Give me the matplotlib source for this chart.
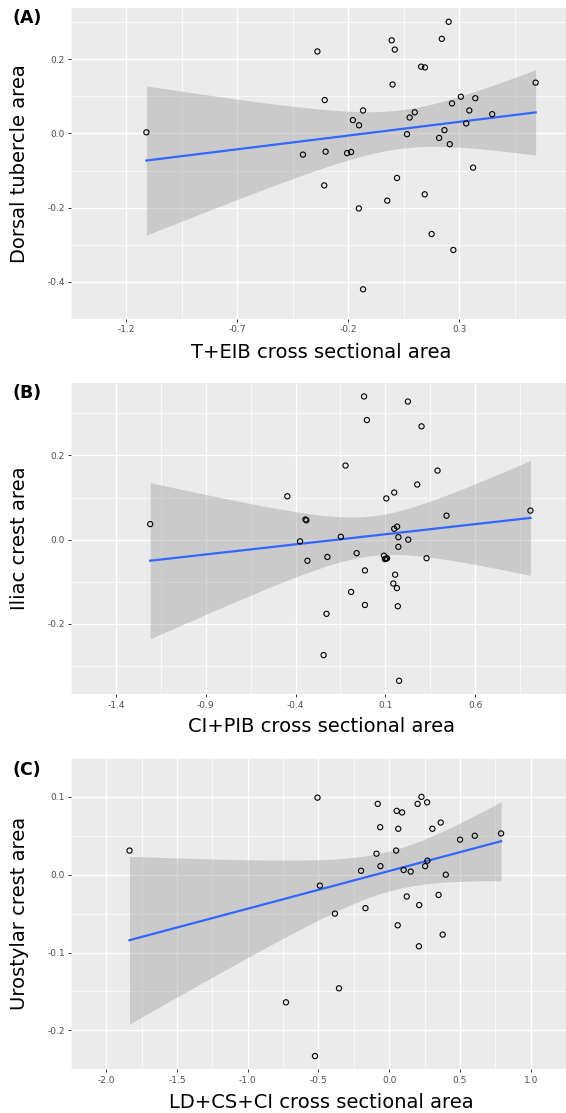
import numpy as np
import matplotlib
matplotlib.use("Agg")
import matplotlib.pyplot as plt

# ---- data (three panels)
a_x = [-1.110, -0.404, -0.339, -0.004, 0.010, 0.253, 0.222, 0.129, 0.146, 0.000,
       0.645, -0.306, 0.308, 0.373, 0.268, -0.133, 0.346, 0.100, 0.077, 0.449,
       -0.179, -0.151, 0.332, 0.234, 0.065, 0.210, 0.258, -0.302, -0.205, -0.187,
       0.363, -0.308, 0.020, 0.145, -0.024, -0.152, 0.176, 0.274, -0.133]
a_y = [0.003, -0.057, 0.221, 0.251, 0.226, 0.301, 0.255, 0.180, 0.178, 0.132,
       0.137, 0.090, 0.099, 0.095, 0.081, 0.062, 0.062, 0.057, 0.043, 0.052,
       0.036, 0.022, 0.027, 0.009, -0.002, -0.012, -0.029, -0.049, -0.053, -0.050,
       -0.092, -0.140, -0.120, -0.164, -0.181, -0.202, -0.271, -0.314, -0.420]

b_x = [-1.209, -0.446, -0.345, -0.340, -0.375, -0.334, -0.019, 0.225, -0.003, 0.301,
       -0.122, 0.390, 0.277, 0.149, 0.105, 0.907, 0.440, 0.165, 0.149, -0.148,
       0.172, 0.227, 0.172, -0.060, 0.092, 0.097, 0.103, 0.109, -0.223, 0.329,
       -0.014, 0.154, 0.144, 0.164, -0.091, -0.014, 0.169, -0.228, -0.244, 0.176]
b_y = [0.037, 0.103, 0.048, 0.046, -0.004, -0.050, 0.340, 0.328, 0.284, 0.269,
       0.176, 0.164, 0.131, 0.112, 0.098, 0.069, 0.057, 0.031, 0.026, 0.007,
       0.006, 0.000, -0.017, -0.032, -0.038, -0.046, -0.045, -0.044, -0.041, -0.044,
       -0.073, -0.083, -0.104, -0.115, -0.124, -0.155, -0.158, -0.176, -0.274, -0.335]

c_x = [-1.836, -0.730, -0.507, 0.228, -0.081, 0.201, 0.268, 0.053, 0.091, 0.364,
       -0.064, 0.064, 0.305, 0.791, 0.605, 0.501, 0.049, -0.090, 0.270, 0.254,
       -0.062, -0.199, 0.102, 0.152, 0.400, -0.490, 0.124, 0.349, 0.212, -0.168,
       -0.384, 0.060, 0.378, 0.210, -0.355, -0.525]
c_y = [0.031, -0.164, 0.099, 0.100, 0.091, 0.091, 0.093, 0.082, 0.080, 0.067,
       0.061, 0.059, 0.059, 0.053, 0.050, 0.045, 0.031, 0.027, 0.018, 0.011,
       0.011, 0.005, 0.006, 0.004, 0.000, -0.014, -0.028, -0.026, -0.039, -0.043,
       -0.050, -0.065, -0.077, -0.092, -0.146, -0.233]

panels = [
    ("(A)", a_x, a_y, "T+EIB cross sectional area", "Dorsal tubercle area",
     (-1.298, 0.782), (-0.454, 0.339), [-1.2, -0.7, -0.2, 0.3], [-0.4, -0.2, 0.0, 0.2]),
    ("(B)", b_x, b_y, "CI+PIB cross sectional area", "Iliac crest area",
     (-1.524, 1.105), (-0.367, 0.372), [-1.4, -0.9, -0.4, 0.1, 0.6], [-0.2, 0.0, 0.2]),
    ("(C)", c_x, c_y, "LD+CS+CI cross sectional area", "Urostylar crest area",
     (-2.154, 1.124), (-0.250, 0.146), [-2.0, -1.5, -1.0, -0.5, 0.0, 0.5, 1.0],
     [-0.2, -0.1, 0.0, 0.1]),
]

PANEL_BG, TICKTXT = "#EBEBEB", "#4D4D4D"


def t95(df):
    # Cornish-Fisher approximation of the 97.5% t quantile
    z = 1.959964
    return z + (z**3 + z) / (4 * df) + (5 * z**5 + 16 * z**3 + 3 * z) / (96 * df**2)


def lm_band(x, y, n=80):
    x, y = np.asarray(x), np.asarray(y)
    b, a = np.polyfit(x, y, 1)
    res = y - (a + b * x)
    k = len(x)
    s = np.sqrt(np.sum(res**2) / (k - 2))
    xs = np.linspace(x.min(), x.max(), n)
    fit = a + b * xs
    se = s * np.sqrt(1 / k + (xs - x.mean())**2 / np.sum((x - x.mean())**2))
    t = t95(k - 2)
    return xs, fit, fit - t * se, fit + t * se


fig = plt.figure(figsize=(5.66, 11.13), dpi=100)
bottoms = [0.7134, 0.3762, 0.0393]
xlab_y = [352, 727, 1102]
tag_y = [18, 393, 770]

for (tag, x, y, xl, yl, xlim, ylim, xt, yt), bot, xly, tgy in zip(
        panels, bottoms, xlab_y, tag_y):
    ax = fig.add_axes([0.1254, bot, 0.8746, 0.2797])
    ax.set_facecolor(PANEL_BG)
    for sp in ax.spines.values():
        sp.set_visible(False)
    ax.set_xlim(*xlim)
    ax.set_ylim(*ylim)
    ax.set_xticks(xt, [f"{v:.1f}" for v in xt])
    ax.set_yticks(yt, [f"{v:.1f}" for v in yt])
    ax.set_xticks([v + (xt[1] - xt[0]) / 2 for v in [xt[0] - (xt[1] - xt[0])] + xt],
                  minor=True)
    ax.set_yticks([v + (yt[1] - yt[0]) / 2 for v in [yt[0] - (yt[1] - yt[0])] + yt],
                  minor=True)
    ax.tick_params(which="major", length=2.5, width=0.7, color="#333333",
                   labelsize=6.5, labelcolor=TICKTXT, pad=2)
    ax.tick_params(which="minor", length=0)
    ax.grid(which="major", color="white", lw=1.0)
    ax.grid(which="minor", color="white", lw=0.5)
    ax.set_axisbelow(True)

    xs, fit, lo, hi = lm_band(x, y)
    ax.fill_between(xs, lo, hi, color="#999999", alpha=0.4, lw=0, zorder=2)
    ax.plot(xs, fit, color="#3366FF", lw=1.6, zorder=3)
    ax.scatter(x, y, s=14, facecolors="none", edgecolors="black",
               linewidths=0.8, zorder=4)

    fig.text(0.5 * (71 + 566) / 566 + 0.005, 1 - xly / 1113, xl, fontsize=14,
             ha="center", va="center")
    fig.text(20 / 566, bot + 0.2797 / 2, yl, fontsize=14, rotation=90,
             ha="center", va="center")
    fig.text(12 / 566, 1 - tgy / 1113, tag, fontsize=12.5, fontweight="bold",
             ha="left", va="center")

fig.savefig("out.png", dpi=100)
